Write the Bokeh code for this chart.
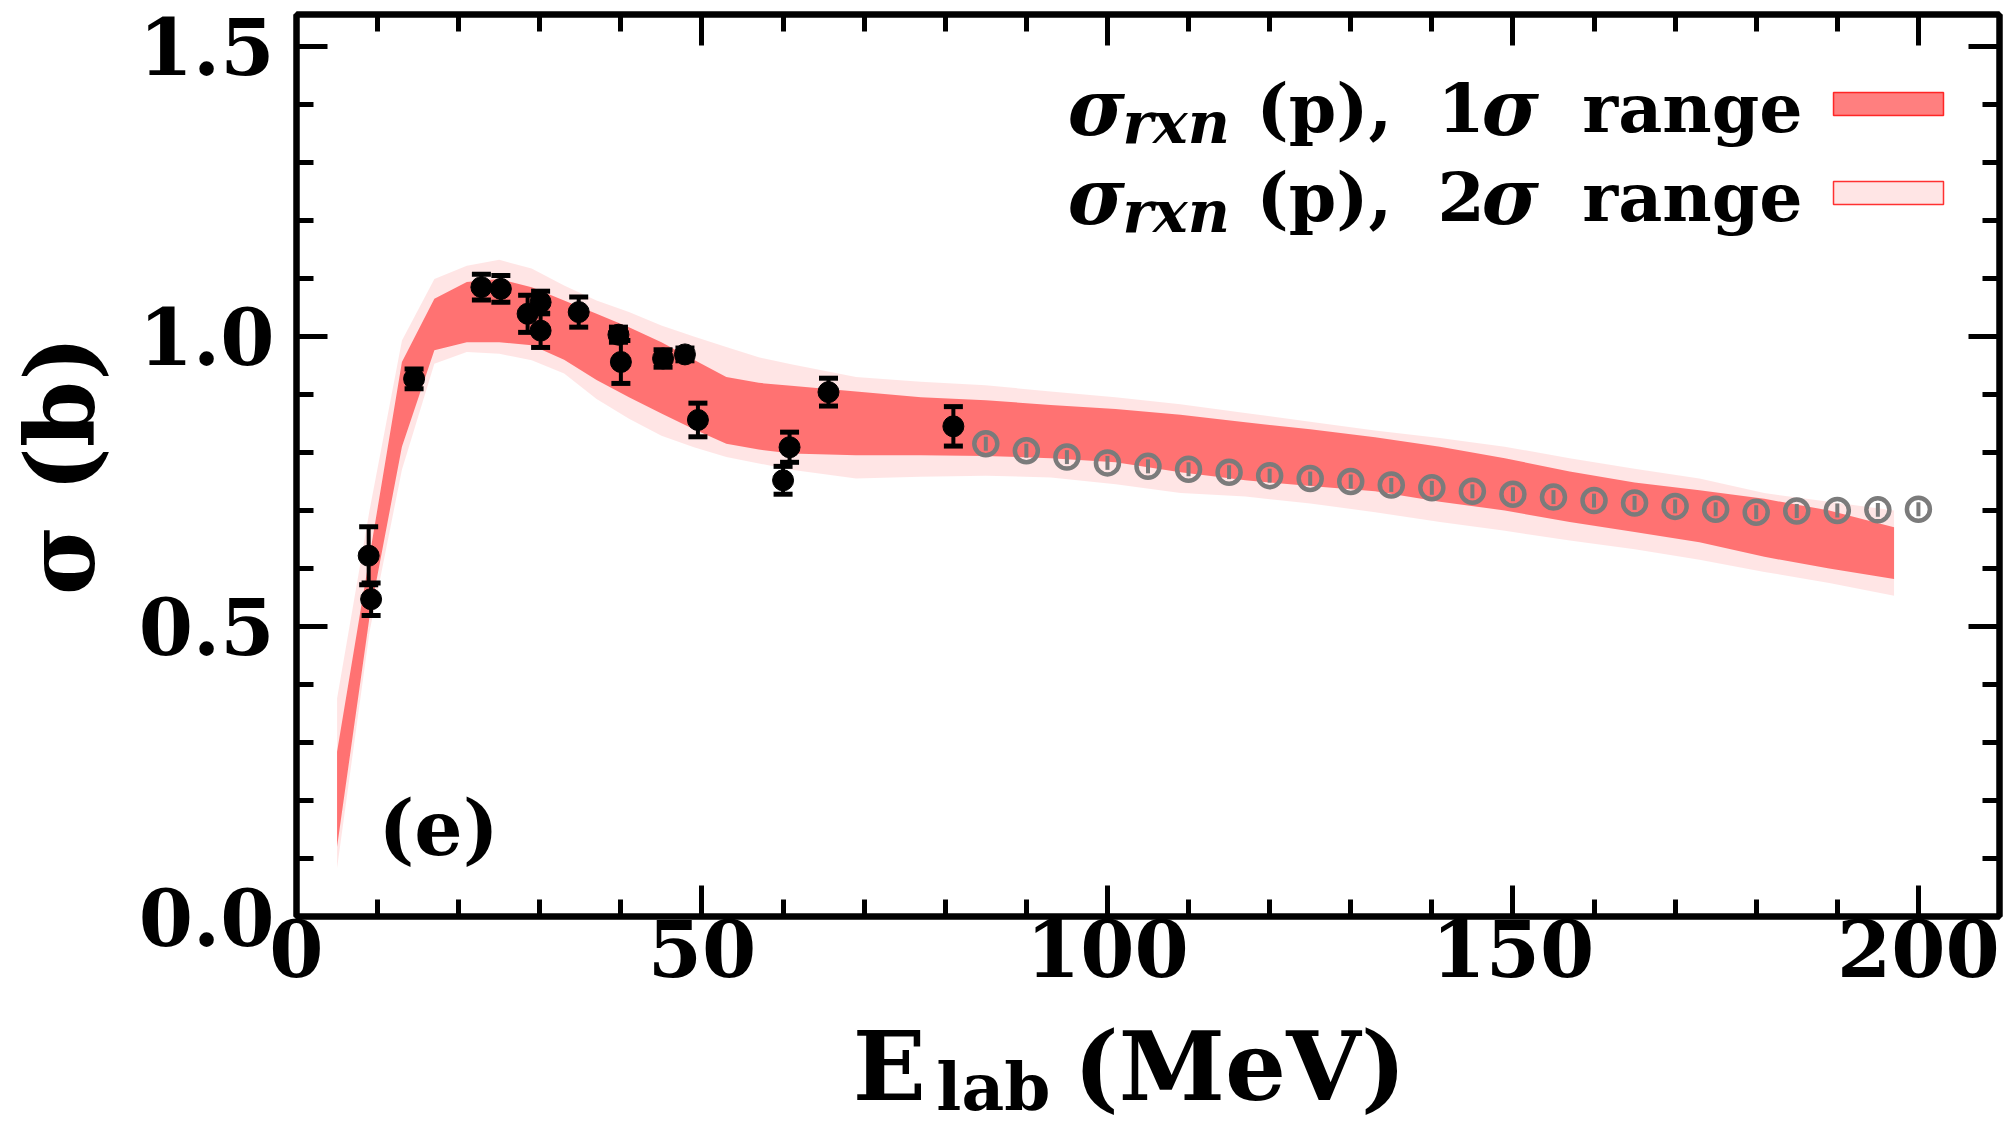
import math
from bokeh.plotting import figure
from bokeh.layouts import column
from bokeh.core.properties import value
from bokeh.models import (ColumnDataSource, FixedTicker, LinearAxis, Label,
                          BoxAnnotation, NumeralTickFormatter, Range1d)
from bokeh.embed import file_html
from bokeh.resources import INLINE

# ---------------- data ----------------
band_x = [5, 9, 13, 17, 21, 25, 29, 33, 37, 41, 45, 49, 53, 57, 61, 69, 77, 85,
          93, 101, 109, 117, 125, 133, 141, 149, 157, 165, 173, 181, 189, 197]
sig1_hi = [0.284, 0.62, 0.956, 1.065, 1.094, 1.099, 1.085, 1.062, 1.039, 1.016, 0.990,
           0.960, 0.930, 0.920, 0.915, 0.905, 0.895, 0.890, 0.882, 0.875, 0.865, 0.852,
           0.840, 0.826, 0.810, 0.790, 0.767, 0.748, 0.735, 0.720, 0.700, 0.671]
sig1_lo = [0.120, 0.516, 0.810, 0.976, 0.990, 0.990, 0.985, 0.960, 0.925, 0.895, 0.867,
           0.840, 0.815, 0.805, 0.798, 0.795, 0.795, 0.794, 0.790, 0.783, 0.766, 0.752,
           0.742, 0.733, 0.715, 0.700, 0.680, 0.663, 0.645, 0.620, 0.600, 0.582]
sig2_hi = [0.376, 0.700, 0.993, 1.099, 1.122, 1.132, 1.117, 1.088, 1.062, 1.042, 1.019,
           1.000, 0.982, 0.964, 0.952, 0.930, 0.922, 0.916, 0.905, 0.895, 0.883, 0.868,
           0.853, 0.838, 0.825, 0.810, 0.790, 0.772, 0.755, 0.730, 0.715, 0.700]
sig2_lo = [0.083, 0.490, 0.770, 0.953, 0.973, 0.970, 0.959, 0.936, 0.892, 0.858, 0.829,
           0.809, 0.792, 0.781, 0.770, 0.755, 0.758, 0.760, 0.757, 0.745, 0.730, 0.724,
           0.712, 0.697, 0.680, 0.665, 0.648, 0.633, 0.615, 0.594, 0.575, 0.553]

exp_x = [8.9, 9.2, 14.5, 22.8, 25.2, 28.5, 30.1, 30.1, 34.8, 39.7, 40.0, 45.2,
         47.9, 49.5, 60.0, 60.8, 65.6, 81.0]
exp_y = [0.622, 0.547, 0.927, 1.085, 1.082, 1.039, 1.059, 1.010, 1.042, 1.003, 0.956,
         0.962, 0.969, 0.856, 0.752, 0.809, 0.904, 0.845]
exp_err = [0.050, 0.028, 0.017, 0.022, 0.023, 0.032, 0.019, 0.029, 0.026, 0.013, 0.037,
           0.015, 0.011, 0.029, 0.024, 0.026, 0.024, 0.034]

gray_x = [85, 90, 95, 100, 105, 110, 115, 120, 125, 130, 135, 140, 145, 150, 155,
          160, 165, 170, 175, 180, 185, 190, 195, 200]
gray_y = [0.815, 0.803, 0.792, 0.782, 0.776, 0.771, 0.766, 0.760, 0.755, 0.750, 0.744,
          0.739, 0.733, 0.728, 0.723, 0.717, 0.713, 0.707, 0.702, 0.697, 0.699, 0.700,
          0.701, 0.702]
gray_err = [0.012, 0.012, 0.012, 0.012, 0.012, 0.012, 0.012, 0.012, 0.012, 0.012, 0.012,
            0.012, 0.012, 0.012, 0.012, 0.012, 0.012, 0.012, 0.012, 0.012, 0.012, 0.012,
            0.012, 0.012]

x_major = [0, 50, 100, 150, 200]
x_minor = [10, 20, 30, 40, 60, 70, 80, 90, 110, 120, 130, 140, 160, 170, 180, 190]
y_major = [0.0, 0.5, 1.0, 1.5]
y_minor = [0.1, 0.2, 0.3, 0.4, 0.6, 0.7, 0.8, 0.9, 1.1, 1.2, 1.3, 1.4]

legend_labels = ["1σ range", "2σ range"]
y_title = "σ (b)"
x_title_main = "E"
x_title_sub = "lab"
x_title_unit = "(MeV)"

# ---------------- main figure ----------------
SERIF = "DejaVu Serif"
p = figure(width=2003, height=1010, x_range=Range1d(0, 210), y_range=Range1d(0, 1.555),
           output_backend="svg", toolbar_location=None,
           min_border_left=296, min_border_right=4, min_border_top=14, min_border_bottom=94)
p.xgrid.visible = False
p.ygrid.visible = False
p.outline_line_color = "black"
p.outline_line_width = 6
p.background_fill_color = "white"
p.border_fill_color = "white"

band = ColumnDataSource(dict(x=band_x, h1=sig1_hi, l1=sig1_lo, h2=sig2_hi, l2=sig2_lo))
p.varea(x="x", y1="l2", y2="h2", source=band, fill_color="red", fill_alpha=0.1)
p.varea(x="x", y1="l1", y2="h1", source=band, fill_color="red", fill_alpha=0.5)

exp = ColumnDataSource(dict(x=exp_x, y=exp_y,
                            lo=[a - b for a, b in zip(exp_y, exp_err)],
                            hi=[a + b for a, b in zip(exp_y, exp_err)]))
p.segment(x0="x", y0="lo", x1="x", y1="hi", source=exp, line_color="black", line_width=4)
p.scatter(x="x", y="lo", source=exp, marker="dash", size=19, line_width=5, line_color="black")
p.scatter(x="x", y="hi", source=exp, marker="dash", size=19, line_width=5, line_color="black")
p.scatter(x="x", y="y", source=exp, marker="circle", size=21, fill_color="black", line_color="black")

gsrc = ColumnDataSource(dict(x=gray_x, y=gray_y,
                             lo=[a - b for a, b in zip(gray_y, gray_err)],
                             hi=[a + b for a, b in zip(gray_y, gray_err)]))
GRAY = "#7b7b7b"
p.segment(x0="x", y0="lo", x1="x", y1="hi", source=gsrc, line_color=GRAY, line_width=4)
p.scatter(x="x", y="y", source=gsrc, marker="circle", size=23, fill_color=None,
          line_color=GRAY, line_width=4.5)

# ---------------- axes ----------------
def style(ax, ticks, minor, show):
    ax.ticker = FixedTicker(ticks=ticks, minor_ticks=minor)
    ax.axis_line_width = 6
    ax.axis_line_color = "black"
    ax.major_tick_in = 31
    ax.major_tick_out = 0
    ax.minor_tick_in = 17
    ax.minor_tick_out = 0
    ax.major_tick_line_width = 5
    ax.minor_tick_line_width = 5
    ax.major_tick_line_color = "black"
    ax.minor_tick_line_color = "black"
    ax.major_label_text_font = SERIF
    ax.major_label_text_font_style = "bold"
    ax.major_label_text_color = "black"
    if show:
        ax.major_label_text_font_size = "78px"
    else:
        ax.major_label_text_font_size = "2px"
        ax.major_label_standoff = 0
        ax.major_label_overrides = {t: "" for t in ticks}

style(p.xaxis[0], x_major, x_minor, True)
p.xaxis[0].major_label_standoff = 2
style(p.yaxis[0], y_major, y_minor, True)
p.yaxis[0].major_label_standoff = 22
p.yaxis[0].formatter = NumeralTickFormatter(format="0.0")
yax = p.yaxis[0]
yax.axis_label = y_title
yax.axis_label_text_font = SERIF
yax.axis_label_text_font_style = "bold"
yax.axis_label_text_font_size = "95px"
yax.axis_label_text_color = "black"
yax.axis_label_standoff = 20

top = LinearAxis()
style(top, x_major, x_minor, False)
p.add_layout(top, "above")
right = LinearAxis()
style(right, y_major, y_minor, False)
p.add_layout(right, "right")

# ---------------- legend ----------------
rows = [(812, 801, 0.5), (723, 712, 0.1)]
for (base, boxb, alpha) in rows:
    p.add_layout(BoxAnnotation(left=1537, right=1647, bottom=boxb, top=boxb + 23,
                               left_units="screen", right_units="screen",
                               bottom_units="screen", top_units="screen",
                               fill_color="red", fill_alpha=alpha,
                               line_color="red", line_width=1.5, line_alpha=0.8))

p.add_layout(Label(x=10.1, y=0.075, text="(e)", text_font=SERIF, text_font_style="bold",
                   text_font_size="76px", text_color="black"))

def lab(text, x, y, size, style="bold", align="left"):
    p.add_layout(Label(x=x, y=y, x_units="screen", y_units="screen", text=text,
                       text_font=SERIF, text_font_style=style, text_font_size=size,
                       text_align=align, text_baseline="alphabetic", text_color="black"))

for text, (base, boxb, alpha) in zip(legend_labels, rows):
    num, rest = text.split("σ")
    lab("σ", 771, base - 3, "78px", style="bold italic")
    lab("rxn", 826, base - 18, "58px", style="bold italic")
    lab("(p),", 960, base - 3, "68px")
    lab(num, 1141, base - 3, "68px")
    lab("σ", 1185, base - 3, "78px", style="bold italic")
    lab(rest.strip(), 1506, base - 3, "68px", align="right")

# ---------------- x-axis title strip (shares the x range) ----------------
q = figure(width=2003, height=114, x_range=p.x_range, y_range=Range1d(0, 114),
           output_backend="svg", toolbar_location=None,
           x_axis_location=None, y_axis_location=None,
           min_border_left=296, min_border_right=4, min_border_top=0, min_border_bottom=0)
q.xgrid.visible = False
q.ygrid.visible = False
q.outline_line_color = None
q.background_fill_color = "white"
q.border_fill_color = "white"

q.text(x=[95.8], y=[2], text=[x_title_unit], text_font=value(SERIF),
       text_font_style="bold", text_font_size="96px", text_align="left",
       text_baseline="bottom", text_color="black")
q.text(x=[78.9], y=[77], text=[x_title_sub], text_font=value(SERIF),
       text_font_style="bold", text_font_size="66px", text_align="left",
       text_baseline="top", text_color="black")
q.text(x=[68.6], y=[2], text=[x_title_main], text_font=value(SERIF),
       text_font_style="bold", text_font_size="96px", text_align="left",
       text_baseline="bottom", text_color="black")

layout = column(p, q, spacing=0)
open("out.html", "w").write(file_html(layout, INLINE))
